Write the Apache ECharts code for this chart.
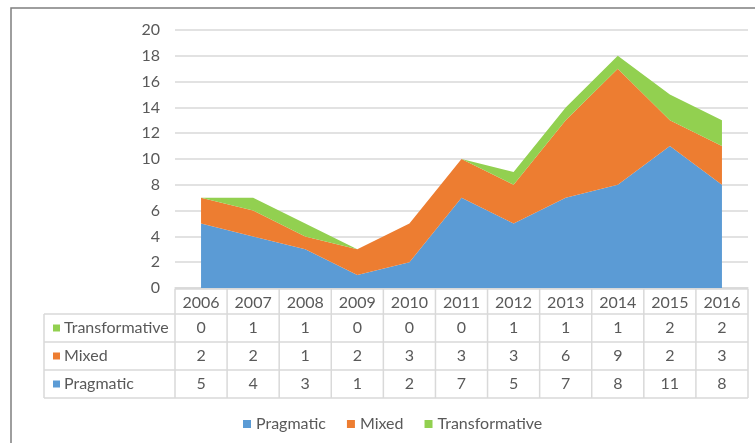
<!DOCTYPE html>
<html>
<head>
<meta charset="utf-8">
<script src="https://cdn.jsdelivr.net/npm/echarts@6/dist/echarts.min.js"></script>
<style>
html, body { margin: 0; padding: 0; background: #fff; }
#chart { width: 755px; height: 443px; }
</style>
</head>
<body>
<div id="chart"></div>
<script>
var years = ['2006', '2007', '2008', '2009', '2010', '2011', '2012', '2013', '2014', '2015', '2016'];
var pragmatic = [5, 4, 3, 1, 2, 7, 5, 7, 8, 11, 8];
var mixed = [2, 2, 1, 2, 3, 3, 3, 6, 9, 2, 3];
var transformative = [0, 1, 1, 0, 0, 0, 1, 1, 1, 2, 2];
var seriesNames = ['Pragmatic', 'Mixed', 'Transformative'];
var colors = ['#5B9BD5', '#ED7D31', '#92D050'];

var font = 'Lato, "Noto Sans", sans-serif';
var textColor = '#595959';
var lineColor = '#d9d9d9';

var chart = echarts.init(document.getElementById('chart'));

function areaSeries(name, data, color) {
    return {
        name: name,
        type: 'line',
        stack: 'total',
        data: data,
        color: color,
        showSymbol: false,
        lineStyle: {width: 0},
        areaStyle: {color: color, opacity: 1},
        emphasis: {disabled: true}
    };
}

var option = {
    animation: false,
    textStyle: {fontFamily: font},
    grid: {left: 175, right: 7, top: 30, bottom: 155},
    legend: {
        bottom: 6,
        left: 238,
        icon: 'rect',
        itemWidth: 8,
        itemHeight: 8,
        itemGap: 21,
        textStyle: {color: textColor, fontSize: 16, fontFamily: font},
        data: seriesNames
    },
    xAxis: {
        type: 'category',
        data: years,
        boundaryGap: true,
        axisLine: {show: true, lineStyle: {color: lineColor, width: 1.5}},
        axisTick: {show: false},
        axisLabel: {show: false}
    },
    yAxis: {
        type: 'value',
        min: 0,
        max: 20,
        interval: 2,
        axisLine: {show: false},
        axisTick: {show: false},
        axisLabel: {color: textColor, fontSize: 16, margin: 15, fontFamily: font},
        splitLine: {lineStyle: {color: lineColor, width: 1.5}}
    },
    series: [
        areaSeries('Pragmatic', pragmatic, colors[0]),
        areaSeries('Mixed', mixed, colors[1]),
        areaSeries('Transformative', transformative, colors[2])
    ]
};
chart.setOption(option);

// data table under the plot
var rows = [
    {name: 'Transformative', values: transformative, color: colors[2]},
    {name: 'Mixed', values: mixed, color: colors[1]},
    {name: 'Pragmatic', values: pragmatic, color: colors[0]}
];
var x0 = chart.convertToPixel({xAxisIndex: 0}, years[0]);
var x1 = chart.convertToPixel({xAxisIndex: 0}, years[1]);
var colW = x1 - x0;
var tblLeft = x0 - colW / 2;
var tblRight = tblLeft + colW * years.length;
var labelLeft = 44;
var rowY = [289, 314, 342, 370, 398];
var cellFont = '16px ' + font;
var g = [];
var ls = {stroke: lineColor, lineWidth: 1.5};

g.push({type: 'rect', shape: {x: 11, y: 8, width: 900, height: 600}, style: {fill: null, stroke: '#7f7f7f', lineWidth: 1.5}, silent: true});

for (var r = 0; r < rowY.length; r++) {
    g.push({type: 'line', shape: {x1: r === 0 ? tblLeft : labelLeft, y1: rowY[r], x2: tblRight, y2: rowY[r]}, style: ls, silent: true});
}
g.push({type: 'line', shape: {x1: labelLeft, y1: rowY[1], x2: labelLeft, y2: rowY[4]}, style: ls, silent: true});
for (var c = 0; c <= years.length; c++) {
    var xx = tblLeft + c * colW;
    g.push({type: 'line', shape: {x1: xx, y1: rowY[0], x2: xx, y2: rowY[4]}, style: ls, silent: true});
}
years.forEach(function (y, i) {
    g.push({type: 'text', x: tblLeft + (i + 0.5) * colW, y: (rowY[0] + rowY[1]) / 2 + 1,
        style: {text: y, fill: textColor, font: cellFont, align: 'center', verticalAlign: 'middle'}, silent: true});
});
rows.forEach(function (row, ri) {
    var cy = (rowY[ri + 1] + rowY[ri + 2]) / 2;
    g.push({type: 'rect', shape: {x: 53, y: cy - 3.5, width: 7, height: 7}, style: {fill: row.color}, silent: true});
    g.push({type: 'text', x: 64, y: cy,
        style: {text: row.name, fill: textColor, font: cellFont, align: 'left', verticalAlign: 'middle'}, silent: true});
    row.values.forEach(function (v, i) {
        g.push({type: 'text', x: tblLeft + (i + 0.5) * colW, y: cy,
            style: {text: String(v), fill: textColor, font: cellFont, align: 'center', verticalAlign: 'middle'}, silent: true});
    });
});
chart.setOption({graphic: {elements: g}});
</script>
</body>
</html>
